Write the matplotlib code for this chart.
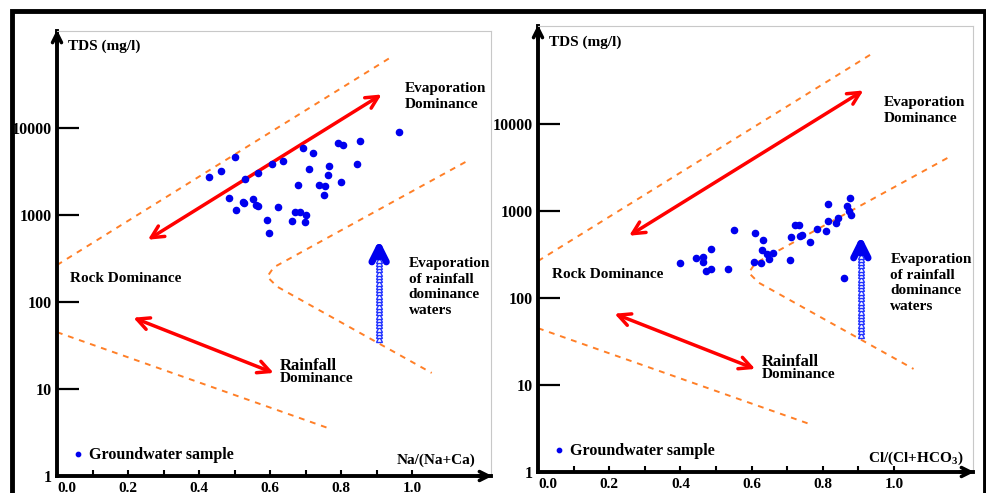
import matplotlib
matplotlib.use('Agg')
import matplotlib.pyplot as plt
import numpy as np
from matplotlib.patches import Rectangle

plt.rcParams['font.family'] = ['Liberation Serif', 'DejaVu Serif']
plt.rcParams['font.weight'] = 'bold'
plt.rcParams['mathtext.default'] = 'regular'

# 样品数据：Na/(Na+Ca) 与 TDS
na_ratio = [0.429, 0.462, 0.501, 0.530, 0.567, 0.605, 0.637, 0.692, 0.720, 0.790,
            0.804, 0.854, 0.844, 0.709, 0.766, 0.763, 0.801, 0.679, 0.739, 0.755,
            0.752, 0.485, 0.523, 0.527, 0.551, 0.560, 0.567, 0.504, 0.622, 0.670,
            0.683, 0.701, 0.663, 0.699, 0.592, 0.597, 0.964]
na_tds = [2755, 3230, 4645, 2572, 3015, 3828, 4143, 5845, 5200, 6780,
          6430, 7145, 3828, 3350, 3690, 2860, 2415, 2195, 2230, 2155,
          1698, 1568, 1422, 1385, 1540, 1293, 1259, 1132, 1227, 1092,
          1092, 1000, 860, 831, 869, 626, 9065]

# 样品数据：Cl/(Cl+HCO3) 与 TDS
cl_ratio = [0.400, 0.445, 0.464, 0.464, 0.473, 0.487, 0.487, 0.534, 0.552, 0.611,
            0.631, 0.630, 0.644, 0.660, 0.650, 0.608, 0.627, 0.708, 0.710, 0.721,
            0.732, 0.735, 0.742, 0.764, 0.784, 0.809, 0.815, 0.815, 0.837, 0.844,
            0.868, 0.877, 0.875, 0.879, 0.859]
cl_tds = [255, 286, 294, 261, 206, 216, 363, 216, 605, 563,
          461, 353, 323, 329, 283, 261, 253, 271, 502, 690,
          690, 516, 534, 444, 621, 584, 762, 1203, 722, 838,
          1141, 1410, 1008, 893, 171]

# Gibbs 边界线
upper_x = [0.0, 0.946]
upper_tds = [266, 67300]
lower_x = [0.0, 0.763]
lower_tds = [45, 3.56]
v_x = [1.15, 0.61, 0.592, 0.62, 1.055]
v_tds = [4065, 250, 195, 150, 15.3]

y_ticks = [1, 10, 100, 1000, 10000]
y_labels = ['1', '10', '100', '1000', '10000']
x_ticks = [0.0, 0.2, 0.4, 0.6, 0.8, 1.0]
x_labels = ['0.0', '0.2', '0.4', '0.6', '0.8', '1.0']

fig = plt.figure(figsize=(9.87, 4.93), dpi=100)

# 外框
fig.patches.append(Rectangle((12.5 / 987, -0.05), (985 - 12.5) / 987, 1.05 - 11.5 / 493,
                             transform=fig.transFigure, fill=False, lw=3.5,
                             edgecolor='black', zorder=10))

ax1 = fig.add_axes([57 / 987, 17 / 493, 434 / 987, 445 / 493])
ax2 = fig.add_axes([538 / 987, 21 / 493, 435 / 987, 446 / 493])

panels = [
    (ax1, na_ratio, na_tds, 'Na/(Na+Ca)', 10 ** (445 / 87), (0.98, 10 ** 4.36), (1.177, 10 ** 0.184)),
    (ax2, cl_ratio, cl_tds, 'Cl/(Cl+HCO$_3$)', 10 ** (446 / 87), (0.972, 10 ** 4.155), (1.194, 10 ** 0.161)),
]

orange = '#ff7f27'

for ax, xs, ys, xlab, ytop, evap_pos, xlab_pos in panels:
    ax.set_yscale('log')
    ax.set_xlim(0, 1.222)
    ax.set_ylim(1, ytop)

    # 边界虚线
    for bx, by in [(upper_x, upper_tds), (lower_x, lower_tds), (v_x, v_tds)]:
        ax.plot(bx, by, color=orange, lw=1.4, linestyle=(0, (3, 3)), zorder=2)

    # 样品点
    ax.scatter(xs, ys, s=20, color='#0000ee', zorder=4, label='Groundwater sample')

    # 红色双向箭头
    ax.annotate('', xy=(0.914, 24300), xytext=(0.256, 520),
                arrowprops=dict(arrowstyle='<->', color='red', lw=2.5,
                                mutation_scale=22, shrinkA=0, shrinkB=0), zorder=3)
    ax.annotate('', xy=(0.61, 15.3), xytext=(0.215, 66),
                arrowprops=dict(arrowstyle='<->', color='red', lw=2.5,
                                mutation_scale=22, shrinkA=0, shrinkB=0), zorder=3)

    # 蓝色箭头（雨水蒸发）
    shaft = np.geomspace(38, 400, 28)
    ax.plot([0.907] * len(shaft), shaft, linestyle='none', marker='^', markersize=5,
            markerfacecolor='white', markeredgecolor='#2233ff', markeredgewidth=1, zorder=3)
    ax.annotate('', xy=(0.907, 520), xytext=(0.907, 330),
                arrowprops=dict(arrowstyle='->', color='#0000ee', lw=5,
                                mutation_scale=26, shrinkA=0, shrinkB=0,
                                capstyle='round', joinstyle='round'), zorder=3)

    # 文字
    ax.text(0.032, 10 ** 4.94, 'TDS (mg/l)', fontsize=11, va='center', ha='left')
    ax.text(evap_pos[0], evap_pos[1], 'Evaporation\nDominance', fontsize=11,
            va='center', ha='left', linespacing=1.25)
    ax.text(0.038, 10 ** 2.27, 'Rock Dominance', fontsize=11, va='center', ha='left')
    ax.text(0.628, 10 ** 1.26, 'Rainfall', fontsize=12, va='center', ha='left')
    ax.text(0.628, 10 ** 1.115, 'Dominance', fontsize=11, va='center', ha='left')
    ax.text(0.99, 10 ** 2.175, 'Evaporation\nof rainfall\ndominance\nwaters', fontsize=11,
            va='center', ha='left', linespacing=1.25)
    ax.text(xlab_pos[0], xlab_pos[1], xlab, fontsize=11, va='center', ha='right')

    # 图例
    ax.legend(loc='lower left', bbox_to_anchor=(0.03, 0.03), frameon=False,
              fontsize=11.5, handletextpad=0.2, handlelength=1.0, markerscale=0.7,
              borderaxespad=0, borderpad=0)

    # 坐标轴
    ax.set_yticks(y_ticks)
    ax.set_yticklabels(y_labels)
    ax.yaxis.set_minor_locator(matplotlib.ticker.NullLocator())
    ax.set_xticks(x_ticks)
    ax.set_xticklabels(x_labels)
    ax.set_xticks([0.1, 0.3, 0.5, 0.7, 0.9], minor=True)
    ax.tick_params(axis='y', direction='in', length=16, width=1.6, labelsize=11.5, pad=4)
    ax.tick_params(axis='x', which='both', direction='in', length=4, width=1.5,
                   labelsize=11, pad=4)
    for side in ['left', 'bottom']:
        ax.spines[side].set_linewidth(2.8)
        ax.spines[side].set_color('black')
    for side in ['top', 'right']:
        ax.spines[side].set_linewidth(0.8)
        ax.spines[side].set_color('#c8c8c8')
    ax.annotate('', xy=(0, 1.003), xytext=(0, 0.97), xycoords='axes fraction',
                arrowprops=dict(arrowstyle='->', color='black', lw=2.6,
                                mutation_scale=16, shrinkA=0, shrinkB=0))
    ax.annotate('', xy=(1.003, 0), xytext=(0.97, 0), xycoords='axes fraction',
                arrowprops=dict(arrowstyle='->', color='black', lw=2.6,
                                mutation_scale=16, shrinkA=0, shrinkB=0))

# 标签 "0.0" 略向右
for ax in (ax1, ax2):
    ax.get_xticklabels()[0].set_horizontalalignment('left')

plt.savefig('out.png', dpi=100)
